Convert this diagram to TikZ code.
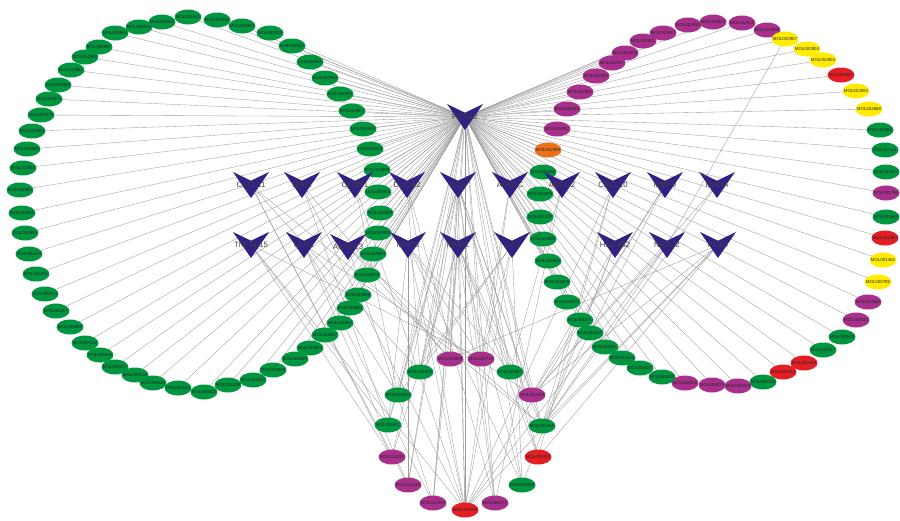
\documentclass[tikz,border=0pt]{standalone}
\usepackage{fontspec}
\newfontfamily\netfont{Liberation Sans}
\usetikzlibrary{shapes.geometric,backgrounds}

\definecolor{molgreen}{RGB}{0,150,64}
\definecolor{molpurple}{RGB}{168,48,140}
\definecolor{molyellow}{RGB}{255,236,0}
\definecolor{molred}{RGB}{228,30,36}
\definecolor{molorange}{RGB}{236,112,24}
\definecolor{veenavy}{RGB}{50,32,130}
\definecolor{linkgray}{RGB}{155,155,155}

\tikzset{
  mol/.style={ellipse, fill=#1, minimum width=27pt, minimum height=15pt,
    inner sep=0pt, text=black!85, font=\netfont\fontsize{4.4}{5}\selectfont},
  target/.style={inner sep=0pt, text=black!75,
    font=\netfont\fontsize{7.8}{8}\selectfont},
  link/.style={linkgray, line width=0.35pt},
  vee/.pic={\fill[veenavy] (-18,-13) -- (0,-4.3) -- (18,-13) -- (0,13) -- cycle;}
}

\begin{document}
\begin{tikzpicture}[x=1pt, y=-1pt]
  \useasboundingbox (0,0) rectangle (900,520);

  % left ring of compounds
  \foreach \x/\y/\t [count=\i] in {188/17/MOL004941, 217/20/MOL004935,
      242/26/MOL004924, 270/33/MOL004915, 292/46/MOL004912, 310/62/MOL004911,
      325/78/MOL004910, 340/94/MOL004908, 352/111/MOL004907, 363/129/MOL004904,
      370/149/MOL004903, 377/170/MOL004898, 378/192/MOL004891, 380/213/MOL004889,
      378/233/MOL004885, 373/254/MOL004883, 367/275/MOL004879, 358/295/MOL004866,
      350/308/MOL004864, 340/323/MOL004863, 325/335/MOL004857, 310/348/MOL004856,
      295/359/MOL004855, 273/370/MOL004849, 253/380/MOL004848, 228/385/MOL004838,
      204/392/MOL004833, 178/388/MOL004825, 153/383/MOL005020, 135/375/MOL005018,
      115/367/MOL005017, 100/355/MOL005016, 85/343/MOL005012, 70/327/MOL005008,
      56/311/MOL005007, 45/294/MOL005003, 36/274/MOL005001, 29/254/MOL005000,
      25/233/MOL004993, 22/213/MOL004991, 20/190/MOL004990, 23/168/MOL004988,
      27/149/MOL004985, 32/131/MOL004980, 41/115/MOL004978, 49/99/MOL004974,
      58/85/MOL004966, 71/70/MOL004961, 85/57/MOL004959, 99/47/MOL004957,
      115/33/MOL004945, 139/27/MOL004944, 162/22/MOL004942}
    \node[mol=molgreen] (L\i) at (\x,\y) {\makebox[0pt]{\t}};

  % right ring of compounds
  \foreach \x/\y/\c/\t [count=\i] in {742/23/molpurple/MOL002911,
      767/30/molpurple/MOL002909, 785/39/molyellow/MOL002907,
      807/49/molyellow/MOL002904, 823/60/molyellow/MOL002903,
      841/75/molred/MOL002897, 856/91/molyellow/MOL002694,
      869/109/molyellow/MOL002668, 880/130/molgreen/MOL002565,
      885/150/molgreen/MOL002311, 886/172/molgreen/MOL001942,
      886/193/molpurple/MOL001798, 886/217/molgreen/MOL001689,
      885/238/molred/MOL001494, 883/260/molyellow/MOL001452,
      878/282/molyellow/MOL000785, 868/302/molpurple/MOL000552,
      856/320/molpurple/MOL000520, 842/337/molgreen/MOL000500,
      823/350/molgreen/MOL000417, 804/363/molred/MOL000359,
      783/372/molred/MOL000354, 763/382/molgreen/MOL000228,
      738/386/molpurple/MOL000223, 712/385/molpurple/MOL000073,
      685/383/molpurple/MOL008206, 662/377/molgreen/MOL004828,
      640/368/molgreen/MOL004827, 622/358/molgreen/MOL004824,
      605/347/molgreen/MOL004821, 590/333/molgreen/MOL001810,
      580/320/molgreen/MOL004871, 567/302/molgreen/MOL004870,
      557/282/molgreen/MOL004808, 548/261/molgreen/MOL004905,
      543/239/molgreen/MOL004806, 540/217/molgreen/MOL004328,
      540/194/molgreen/MOL003896, 543/172/molgreen/MOL003656,
      548/150/molorange/MOL002959, 557/129/molpurple/MOL002937,
      567/109/molpurple/MOL002934, 580/92/molpurple/MOL002931,
      596/76/molpurple/MOL002930, 612/63/molpurple/MOL002927,
      625/53/molpurple/MOL002925, 643/41/molpurple/MOL002921,
      663/33/molpurple/MOL002917, 688/25/molpurple/MOL002915,
      713/22/molpurple/MOL002910}
    \node[mol=\c] (R\i) at (\x,\y) {\makebox[0pt]{\t}};

  % shared compounds at the bottom
  \foreach \x/\y/\c/\t [count=\i] in {450/359/molpurple/MOL002929,
      481/359/molpurple/MOL002714, 510/372/molgreen/MOL000467,
      532/395/molpurple/MOL000449, 542/426/molgreen/MOL000422,
      538/457/molred/MOL000392, 522/485/molgreen/MOL000358,
      495/503/molpurple/MOL000171, 465/510/molred/MOL000098,
      433/503/molpurple/MOL012250, 408/485/molpurple/MOL012246,
      392/457/molpurple/MOL012244, 388/425/molgreen/MOL004841,
      398/395/molgreen/MOL004836, 420/372/molgreen/MOL004810}
    \node[mol=\c] (M\i) at (\x,\y) {\makebox[0pt]{\t}};

  % targets
  \foreach \n/\x/\y/\t in {ptgs2/465/117/PTGS2, cxcl11/251/185/CXCL11,
      spp1/302/185/SPP1, ccnb1/355/185/CCNB1, duox2/407/185/DUOX2,
      il1b/458/185/IL1B, adh1c/510/185/ADH1C, abcg2/562/185/ABCG2,
      cxcl10/613/185/CXCL10, mmp9/665/185/MMP9, maoa/717/185/MAOA,
      tnfsf15/251/245/TNFSF15, olr1/304/245/OLR1, akr1c3/348/247/AKR1C3,
      mmp3/408/245/MMP3, mmp1/458/245/MMP1, ca2/512/245/CA2,
      hsd3b2/615/245/HSD3B2, nr3c2/667/245/NR3C2, plau/718/245/PLAU} {
    \pic at (\x,\y) {vee};
    \node[target] (\n) at (\x,\y) {\t};
  }

  \begin{scope}[on background layer]
    \foreach \i in {1,...,53} \draw[link] (ptgs2.center) -- (L\i.center);
    \foreach \i in {1,...,50} \draw[link] (ptgs2.center) -- (R\i.center);
    \foreach \i in {1,...,15} \draw[link] (ptgs2.center) -- (M\i.center);
    \foreach \a/\b in {M9/il1b, M9/mmp1, M9/mmp3, M9/ccnb1, M9/spp1,
        M9/tnfsf15, M9/ca2, M9/plau, M9/nr3c2, M9/cxcl10, M9/adh1c,
        M9/duox2, M9/mmp9, M5/il1b, M5/mmp1, M5/cxcl10, M5/hsd3b2,
        M5/nr3c2, M5/plau, M5/mmp9, M5/maoa, M5/akr1c3, M5/cxcl11,
        M4/hsd3b2, M4/nr3c2, M4/maoa, M4/plau, M4/mmp9, M4/il1b, M4/olr1,
        M1/il1b, M1/mmp1, M1/akr1c3, M1/spp1, M1/plau, M2/il1b, M2/mmp3,
        M2/adh1c, M2/ca2, M2/tnfsf15, M3/mmp1, M3/mmp3, M3/il1b, M3/abcg2,
        M6/il1b, M6/mmp1, M6/cxcl10, M6/plau, M7/mmp1, M7/mmp3, M7/ca2,
        M7/hsd3b2, M8/il1b, M8/mmp1, M8/abcg2, M8/duox2, M10/olr1,
        M10/akr1c3, M10/il1b, M10/mmp1, M11/cxcl11, M11/olr1, M11/mmp3,
        M11/il1b, M12/cxcl11, M12/tnfsf15, M12/mmp1, M13/tnfsf15,
        M13/spp1, M13/mmp3, M13/il1b, M14/ccnb1, M14/olr1, M14/ca2,
        M14/il1b, M15/duox2, M15/mmp1, M15/il1b, M15/ca2, M15/cxcl11,
        R3/nr3c2}
      \draw[link] (\a.center) -- (\b.center);
  \end{scope}
\end{tikzpicture}
\end{document}
